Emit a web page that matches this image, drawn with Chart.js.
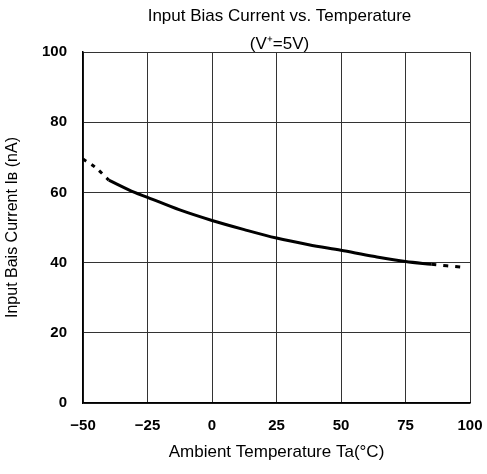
<!DOCTYPE html>
<html>
<head>
<meta charset="utf-8">
<script src="https://cdn.jsdelivr.net/npm/chart.js@4/dist/chart.umd.min.js"></script>
<style>
  html, body { margin: 0; padding: 0; background: #fff; }
  #wrap { width: 487px; height: 474px; }
</style>
</head>
<body>
<div id="wrap"><canvas id="grafico"></canvas></div>
<script>
// dados
const tempSolid = [-40, -30, -25, -12.5, 0, 12.5, 25, 37.5, 50, 62.5, 75, 85];
const biasSolid = [63.5, 60, 58.6, 55, 52, 49.4, 47, 45.1, 43.5, 41.8, 40.3, 39.5];
const tempColdDash = [-50, -45, -40];
const biasColdDash = [69.5, 67, 63.5];
const tempHotDash = [85, 91, 97];
const biasHotDash = [39.5, 39.1, 38.7];

const xTicks = [-50, -25, 0, 25, 50, 75, 100];
const xTickLabels = ['\u221250', '\u221225', '0', '25', '50', '75', '100'];
const yTicks = [0, 20, 40, 60, 80, 100];

const titulo = 'Input Bias Current vs. Temperature';
const subtitulo = '(V\u207A=5V)';

function pontos(xs, ys) {
    return xs.map((x, i) => ({ x: x, y: ys[i] }));
}

const fonte = 'Liberation Sans, Arial, sans-serif';

// título desenhado sobre a área do gráfico
const tituloPlugin = {
    id: 'tituloPlugin',
    afterDraw(chart) {
        const c = chart.ctx;
        const area = chart.chartArea;
        const cx = (area.left + area.right) / 2 + 3;
        c.save();
        c.fillStyle = '#000';
        c.textAlign = 'center';
        c.textBaseline = 'middle';
        c.font = '17px ' + fonte;
        c.fillText(titulo, cx, 16);
        c.fillText(subtitulo, cx, 44);
        c.restore();
    }
};

const ctx = document.getElementById('grafico').getContext('2d');
const grafico = new Chart(ctx, {
    type: 'scatter',
    data: {
        datasets: [
            {
                data: pontos(tempSolid, biasSolid),
                showLine: true,
                borderColor: '#000',
                borderWidth: 3,
                pointRadius: 0,
                tension: 0.4,
                cubicInterpolationMode: 'monotone'
            },
            {
                data: pontos(tempColdDash, biasColdDash),
                showLine: true,
                borderColor: '#000',
                borderWidth: 3,
                borderDash: [4, 6],
                pointRadius: 0,
                tension: 0.3
            },
            {
                data: pontos(tempHotDash, biasHotDash),
                showLine: true,
                borderColor: '#000',
                borderWidth: 3,
                borderDash: [5, 7],
                pointRadius: 0,
                tension: 0
            }
        ]
    },
    options: {
        responsive: true,
        maintainAspectRatio: false,
        animation: false,
        layout: { padding: { top: 52, right: 17, left: 0, bottom: 0 } },
        plugins: {
            legend: { display: false },
            tooltip: { enabled: false }
        },
        scales: {
            x: {
                type: 'linear',
                min: -50,
                max: 100,
                afterBuildTicks: s => { s.ticks = xTicks.map(v => ({ value: v })); },
                afterFit: s => { s.height = 71; s.paddingLeft = 0; s.paddingRight = 0; },
                ticks: {
                    color: '#000',
                    padding: 14,
                    maxRotation: 0,
                    font: { family: fonte, size: 15, weight: 'bold' },
                    callback: v => xTickLabels[xTicks.indexOf(v)]
                },
                grid: { color: '#333', lineWidth: 1, drawTicks: false },
                border: { color: '#000', width: 1.5 },
                title: {
                    display: true,
                    text: 'Ambient Temperature Ta(\u00B0C)',
                    color: '#000',
                    font: { family: fonte, size: 17 },
                    padding: { top: 0, bottom: 11 }
                }
            },
            y: {
                min: 0,
                max: 100,
                afterBuildTicks: s => { s.ticks = yTicks.map(v => ({ value: v })); },
                afterFit: s => { s.width = 83; s.paddingTop = 0; s.paddingBottom = 0; },
                ticks: {
                    color: '#000',
                    padding: 16,
                    font: { family: fonte, size: 15, weight: 'bold' }
                },
                grid: { color: '#333', lineWidth: 1, drawTicks: false },
                border: { color: '#000', width: 1.5 },
                title: {
                    display: true,
                    text: 'Input Bais Current I\u0299 (nA)',
                    color: '#000',
                    font: { family: fonte, size: 16 },
                    padding: { top: 3, bottom: 0 }
                }
            }
        }
    },
    plugins: [tituloPlugin]
});
</script>
</body>
</html>
